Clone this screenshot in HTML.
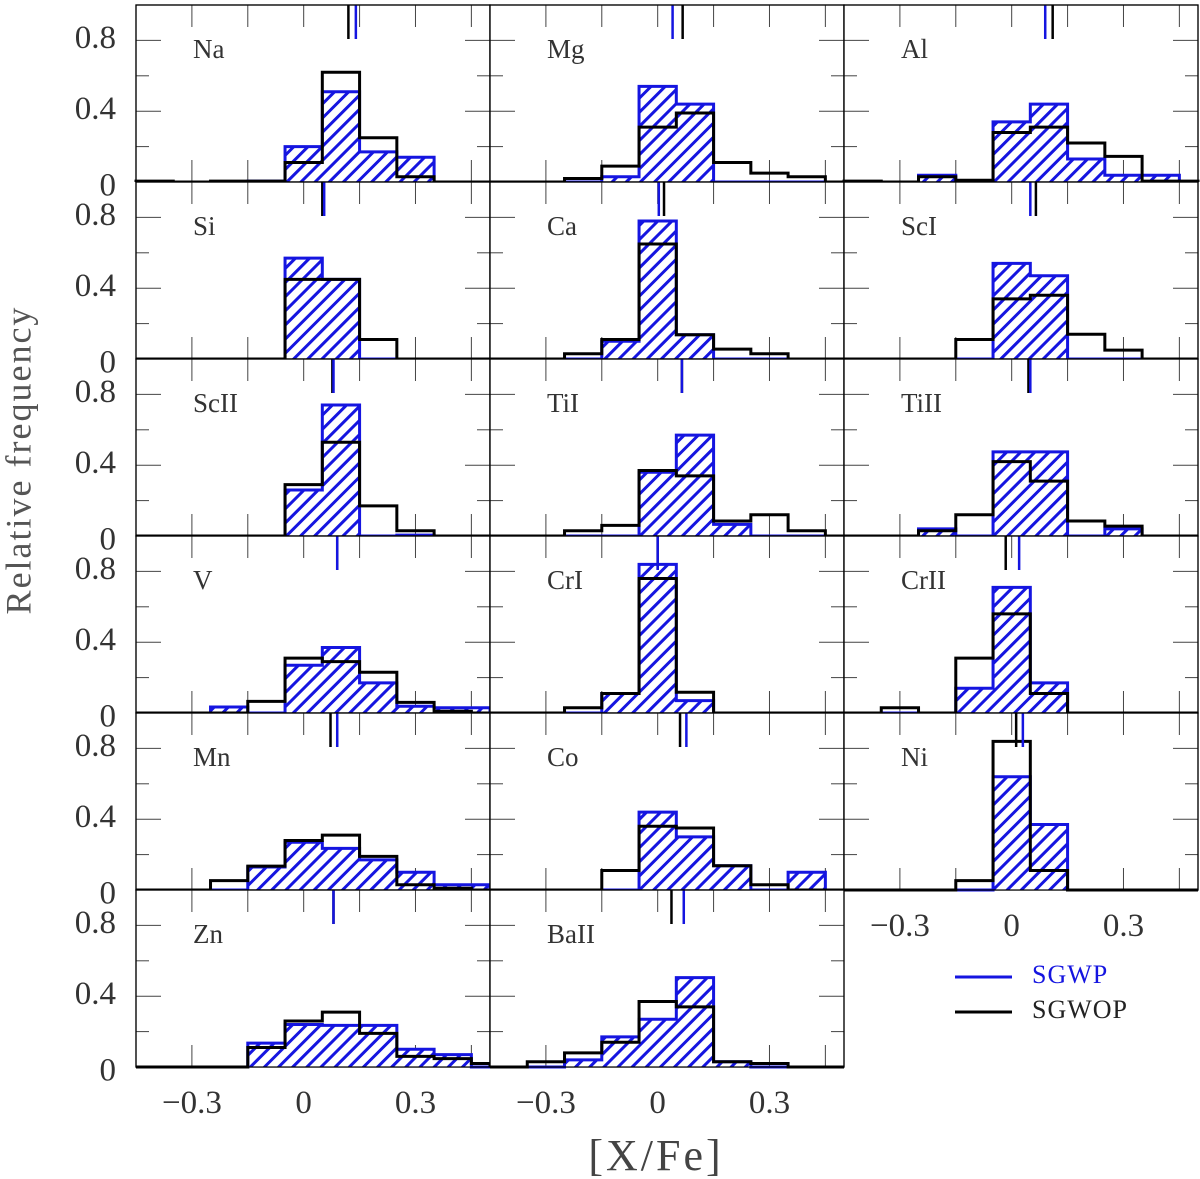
<!DOCTYPE html>
<html><head><meta charset="utf-8"><style>
html,body{margin:0;padding:0;background:#fff;}
svg{display:block;}
.tk{font-family:"Liberation Serif",serif;font-size:33px;fill:#333;}
.el{font-family:"Liberation Serif",serif;font-size:27px;fill:#333;}
</style></head><body>
<svg id="chart" width="1200" height="1179" viewBox="0 0 1200 1179" xmlns="http://www.w3.org/2000/svg">
<defs>
<pattern id="hatch" patternUnits="userSpaceOnUse" width="10" height="10" patternTransform="rotate(45)">
<rect width="10" height="10" fill="#fff"/>
<line x1="0" y1="0" x2="0" y2="10" stroke="#1515e0" stroke-width="6"/>
</pattern>
</defs>
<g id="panels"></g>
<text x="22" y="460" transform="rotate(-90 22 460)" text-anchor="middle" dominant-baseline="middle" style="font-family:'Liberation Serif',serif;font-size:36px;fill:#555;letter-spacing:2px">Relative frequency</text>
<text x="656" y="1170" text-anchor="middle" style="font-family:'Liberation Serif',serif;font-size:44px;fill:#444;letter-spacing:3px">[X/Fe]</text>
<g>
<line x1="955" y1="977" x2="1012" y2="977" stroke="#1515e0" stroke-width="3"/>
<text x="1032" y="983" style="font-family:'Liberation Serif',serif;font-size:26px;fill:#1515e0;letter-spacing:1px">SGWP</text>
<line x1="955" y1="1012" x2="1012" y2="1012" stroke="#000" stroke-width="3"/>
<text x="1032" y="1018" style="font-family:'Liberation Serif',serif;font-size:26px;fill:#222;letter-spacing:1px">SGWOP</text>
</g>
</svg>
<script>
// bins: centres of 0.1-wide bins (last one clipped at 0.5)
const binCenters = [-0.4,-0.3,-0.2,-0.1,0,0.1,0.2,0.3,0.4,0.5];
const elements = ["Na","Mg","Al","Si","Ca","ScI","ScII","TiI","TiII","V","CrI","CrII","Mn","Co","Ni","Zn","BaII"];
const sgwp = [
 [0,0,0,0.005,0.20,0.51,0.17,0.14,0,0],
 [0,0,0,0.03,0.54,0.44,0,0,0,0],
 [0,0,0.038,0,0.34,0.44,0.13,0.038,0.038,0],
 [0,0,0,0,0.57,0.45,0,0,0,0],
 [0,0,0,0.10,0.78,0.137,0,0,0,0],
 [0,0,0,0,0.54,0.47,0,0,0,0],
 [0,0,0,0,0.26,0.74,0,0.005,0,0],
 [0,0,0,0,0.36,0.57,0.066,0,0,0],
 [0,0,0.04,0,0.475,0.475,0,0.04,0,0],
 [0,0,0.034,0,0.27,0.37,0.17,0.038,0.03,0.03],
 [0,0,0,0.11,0.84,0.07,0,0,0,0],
 [0,0,0,0.14,0.71,0.17,0,0,0,0],
 [0,0,0,0.13,0.27,0.235,0.17,0.10,0.03,0.03],
 [0,0,0,0,0.44,0.30,0.137,0,0.10,0],
 [0,0,0,0,0.64,0.37,0,0,0,0],
 [0,0,0,0.135,0.24,0.235,0.235,0.10,0.07,0],
 [0,0,0.04,0.17,0.27,0.505,0.03,0,0,0]
];
const sgwop = [
 [0.005,0,0.005,0.005,0.11,0.62,0.25,0.03,0,0],
 [0,0,0.02,0.09,0.31,0.39,0.11,0.05,0.03,0],
 [0.005,0,0.03,0.01,0.28,0.31,0.22,0.145,0.005,0.005],
 [0,0,0,0,0.45,0.45,0.11,0,0,0],
 [0,0,0.03,0.11,0.65,0.137,0.056,0.03,0,0],
 [0,0,0,0.11,0.34,0.36,0.14,0.05,0,0],
 [0,0,0,0,0.29,0.53,0.17,0.03,0,0],
 [0,0,0.03,0.06,0.37,0.34,0.085,0.12,0.03,0],
 [0,0,0.03,0.12,0.42,0.31,0.085,0.056,0,0],
 [0,0,0,0.066,0.31,0.29,0.23,0.06,0.01,0],
 [0,0,0.03,0.11,0.76,0.117,0,0,0,0],
 [0,0.03,0,0.31,0.56,0.11,0,0,0,0],
 [0,0,0.053,0.135,0.28,0.31,0.19,0.03,0.01,0],
 [0,0,0,0.11,0.36,0.35,0.137,0.03,0,0],
 [0,0,0,0.053,0.84,0.11,0,0,0,0],
 [0,0,0,0.11,0.26,0.31,0.19,0.06,0.047,0.02],
 [0,0.03,0.08,0.14,0.37,0.34,0.03,0.02,0,0]
];
const meanSgwp  = [0.14,0.04,0.09,0.055,0.003,0.05,0.08,0.065,0.05,0.09,0.0,0.02,0.09,0.077,0.03,0.08,0.07];
const meanSgwop = [0.12,0.067,0.11,0.05,0.017,0.065,0.077,0.065,0.045,0.09,0.0,-0.016,0.072,0.06,0.012,0.08,0.037];
const xTicks = [-0.3,-0.15,0,0.15,0.3,0.45];
const xTickLabels = [-0.3,0,0.3];
const yTicks = [0.2,0.4,0.6,0.8];
const yTickLabels = [0,0.4,0.8];

const NS="http://www.w3.org/2000/svg";
const XMIN=-0.45, XMAX=0.5, PW=354, PH=177, LEFT0=136, TOP0=5, BINW=0.1;
const colLeft = c => LEFT0 + c*354;
const rowTop = r => TOP0 + r*PH;
function xs(v,c){return colLeft(c) + (v-XMIN)/(XMAX-XMIN)*PW;}
function ys(v,r){return rowTop(r) + PH - v*PH;}
function mk(tag,attrs,parent){const e=document.createElementNS(NS,tag);for(const k in attrs)e.setAttribute(k,attrs[k]);parent.appendChild(e);return e;}
const root=document.getElementById('panels');

function histPath(vals,c,r,closed){
  let d="M"+xs(XMIN,c)+","+ys(0,r);
  vals.forEach((v,i)=>{
    const a=Math.max(XMIN,binCenters[i]-BINW/2), b=Math.min(XMAX,binCenters[i]+BINW/2);
    d+=" L"+xs(a,c)+","+ys(v,r)+" L"+xs(b,c)+","+ys(v,r);
  });
  d+=" L"+xs(XMAX,c)+","+ys(0,r);
  if(closed) d+=" Z";
  return d;
}

elements.forEach((name,i)=>{
  const c=i%3, r=Math.floor(i/3);
  const g=mk('g',{},root);
  
  
  const L=colLeft(c), T=rowTop(r);
  const frame=mk('rect',{x:L,y:T,width:PW,height:PH,fill:'#fff',stroke:'#000','stroke-width':1.2},g);
  
  
  // ticks
  xTicks.forEach(t=>{
    const x=xs(t,c);
    const tk1=mk('line',{x1:x,y1:T,x2:x,y2:T+22,stroke:'#444','stroke-width':1},g);
    
    
    const tk2=mk('line',{x1:x,y1:T+PH,x2:x,y2:T+PH-22,stroke:'#444','stroke-width':1},g);
    
    
  });
  yTicks.forEach((t,k)=>{
    const y=ys(t,r), len=(k%2===1)?25:13;
    const tk1=mk('line',{x1:L,y1:y,x2:L+len,y2:y,stroke:'#444','stroke-width':1},g);
    
    
    const tk2=mk('line',{x1:L+PW,y1:y,x2:L+PW-len,y2:y,stroke:'#444','stroke-width':1},g);
    
    
  });
  // blue hatched histogram
  const bf=mk('path',{d:histPath(sgwp[i],c,r,true),fill:'url(#hatch)',stroke:'none'},g);
  
  
  const bl=mk('path',{d:histPath(sgwp[i],c,r,false),fill:'none',stroke:'#1515e0','stroke-width':3},g);
  
  
  const kl=mk('path',{d:histPath(sgwop[i],c,r,false),fill:'none',stroke:'#000','stroke-width':3},g);
  
  
  // mean markers
  const mk1=mk('line',{x1:xs(meanSgwop[i],c),y1:T,x2:xs(meanSgwop[i],c),y2:T+34,stroke:'#000','stroke-width':2.5},g);
  
  
  const mk2=mk('line',{x1:xs(meanSgwp[i],c),y1:T,x2:xs(meanSgwp[i],c),y2:T+34,stroke:'#1515e0','stroke-width':2.5},g);
  
  
  // frame border on top
  const fr2=mk('rect',{x:L,y:T,width:PW,height:PH,fill:'none',stroke:'#000','stroke-width':1.2},g);
  
  
  // element label
  const lb=mk('text',{x:L+57,y:T+53,class:'el'},g);
  lb.textContent=name;
  
  
  // y tick labels on first column
  if(c===0){
    yTickLabels.forEach(t=>{
      const tl=mk('text',{x:116,y:ys(t,r)+(t===0?6:0),class:'tk','text-anchor':'end','dominant-baseline':'middle'},g);
      tl.textContent=String(t);
      
      
    });
  }
  // x tick labels on bottom panel of each column
  const isBottom=(i+3>=elements.length);
  if(isBottom){
    xTickLabels.forEach(t=>{
      const tl=mk('text',{x:xs(t,c),y:T+PH+46,class:'tk','text-anchor':'middle'},g);
      tl.textContent=(t<0?'\u2212':'')+String(Math.abs(t));
      
      
    });
  }
});
</script>
</body></html>
